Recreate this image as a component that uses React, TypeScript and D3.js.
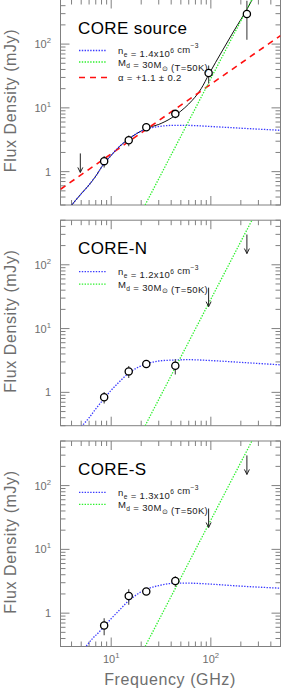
import React, { useEffect, useRef } from 'react';
import * as d3 from 'd3';

const W = 281;
const H = 689;

// observed flux densities (GHz, mJy)
const coreFreq = [8.5, 15, 22.5, 44, 95, 230];
const coreFlux = [1.46, 3.1, 4.97, 8.06, 35.2, 297];
const coreErr = [0.3, 0.6, 0.4, 1.2, 11, 180];
const coreLimFreq = [4.9];
const coreLimFlux = [1.93];

const northFreq = [8.5, 15, 22.5, 44];
const northFlux = [0.84, 2.13, 2.78, 2.61];
const northErr = [0.17, 0.45, 0.25, 0.7];
const northLimFreq = [95, 230];
const northLimFlux = [43.8, 298];

const southFreq = [8.5, 15, 22.5, 44];
const southFlux = [0.64, 1.86, 2.18, 3.2];
const southErr = [0.19, 0.5, 0.2, 0.6];
const southLimFreq = [95, 230];
const southLimFlux = [43.7, 297];

// model curves
const coreHiiFreq = [3.8, 5, 6, 7, 8.5, 10, 12, 15, 18, 22.5, 30, 40, 60, 100, 200, 500];
const coreHiiFlux = [0.27, 0.45, 0.62, 0.85, 1.35, 1.8, 2.45, 3.25, 3.95, 4.65, 5.1, 5.3, 5.3, 5.1, 4.8, 4.45];
const coreTotalFreq = [3.8, 5, 6, 7, 8.5, 10, 12, 15, 18, 22.5, 30, 40, 50, 60, 80, 96, 130, 170, 230, 280];
const coreTotalFlux = [0.27, 0.45, 0.62, 0.85, 1.35, 1.8, 2.45, 3.25, 3.95, 4.75, 5.5, 6.9, 8.9, 11.5, 20, 34, 78, 160, 350, 620];
const coreAlphaFreq = [3.1, 500];
const coreAlphaFlux = [0.53, 136];

const northHiiFreq = [4.8, 6, 7, 8.5, 10, 12, 15, 18, 22.5, 30, 40, 60, 100, 200, 500];
const northHiiFlux = [0.27, 0.4, 0.55, 0.8, 1.08, 1.45, 2.0, 2.4, 2.8, 3.1, 3.2, 3.25, 3.15, 2.95, 2.7];

const southHiiFreq = [5.4, 6.5, 7.5, 8.5, 10, 12, 15, 18, 22.5, 30, 43, 60, 100, 200, 500];
const southHiiFlux = [0.28, 0.4, 0.5, 0.62, 0.82, 1.1, 1.57, 1.95, 2.37, 2.7, 2.94, 2.95, 2.85, 2.65, 2.46];

const dustFreq = [21.9, 257];
const dustFlux = [0.3, 492];

const xTickLabels = ['1', '2'];
const yTickLabels = ['', '1', '2'];

type Part = [string, 'sub' | 'sup' | null];

const panels = [
  {
    title: 'CORE source',
    freq: coreFreq, flux: coreFlux, err: coreErr, limFreq: coreLimFreq, limFlux: coreLimFlux,
    hiiFreq: coreHiiFreq, hiiFlux: coreHiiFlux,
    totalFreq: coreTotalFreq, totalFlux: coreTotalFlux,
    alphaFreq: coreAlphaFreq, alphaFlux: coreAlphaFlux,
    ne: '1.4',
    legendY: [51, 62.5, 78],
  },
  {
    title: 'CORE-N',
    freq: northFreq, flux: northFlux, err: northErr, limFreq: northLimFreq, limFlux: northLimFlux,
    hiiFreq: northHiiFreq, hiiFlux: northHiiFlux,
    totalFreq: null, totalFlux: null, alphaFreq: null, alphaFlux: null,
    ne: '1.2',
    legendY: [51.5, 64],
  },
  {
    title: 'CORE-S',
    freq: southFreq, flux: southFlux, err: southErr, limFreq: southLimFreq, limFlux: southLimFlux,
    hiiFreq: southHiiFreq, hiiFlux: southHiiFlux,
    totalFreq: null, totalFlux: null, alphaFreq: null, alphaFlux: null,
    ne: '1.3',
    legendY: [51.3, 63.3],
  },
];

const FONT = '"Liberation Sans", Arial, Helvetica, sans-serif';
const AXIS_GRAY = '#808080';
const LABEL_GRAY = '#6e6e6e';
const BLUE = '#3a3aff';
const GREEN = '#2ef02e';
const RED = '#ff1010';

function rich(sel: any, parts: Part[], size: number) {
  parts.forEach(([s, kind]) => {
    if (kind === 'sub') {
      sel.append('tspan').attr('dy', size * 0.3).attr('font-size', size * 0.7).text(s);
      sel.append('tspan').attr('dy', -size * 0.3).text('');
    } else if (kind === 'sup') {
      sel.append('tspan').attr('dy', -size * 0.45).attr('font-size', size * 0.7).text(s);
      sel.append('tspan').attr('dy', size * 0.45).text('');
    } else {
      sel.append('tspan').text(s);
    }
  });
}

const App: React.FC = () => {
  const ref = useRef<SVGSVGElement>(null);

  useEffect(() => {
    if (!ref.current) return;
    const svg = d3.select(ref.current);
    svg.selectAll('*').remove();

    const left = 60.5;
    const right = 280.5;
    const panelH = 205.5;
    const tops = [-0.5, 220.2, 441];

    const x = d3.scaleLog().domain([3.1, 500]).range([left, right]);
    const xTicks = x.ticks().filter(t => t >= 3.1 && t <= 500);
    const defs = svg.append('defs');

    panels.forEach((p, pi) => {
      const top = tops[pi];
      const bottom = top + panelH;
      const y = d3.scaleLog().domain([0.3, 500]).range([bottom, top]);
      const yTicks = y.ticks().filter(t => t >= 0.3 && t <= 500);
      const isMajor = (v: number) => Math.abs(Math.log10(v) - Math.round(Math.log10(v))) < 1e-6;

      const clipId = `clip${pi}`;
      defs.append('clipPath').attr('id', clipId)
        .append('rect').attr('x', left).attr('y', top).attr('width', right - left).attr('height', panelH);

      const g = svg.append('g');

      // ticks
      xTicks.forEach(t => {
        const len = isMajor(t) ? 9 : 5;
        const xx = x(t);
        g.append('line').attr('x1', xx).attr('x2', xx).attr('y1', bottom).attr('y2', bottom - len)
          .attr('stroke', AXIS_GRAY).attr('stroke-width', 1);
        g.append('line').attr('x1', xx).attr('x2', xx).attr('y1', top).attr('y2', top + len)
          .attr('stroke', AXIS_GRAY).attr('stroke-width', 1);
      });
      yTicks.forEach(t => {
        const len = isMajor(t) ? 9 : 5;
        const yy = y(t);
        g.append('line').attr('x1', left).attr('x2', left + len).attr('y1', yy).attr('y2', yy)
          .attr('stroke', AXIS_GRAY).attr('stroke-width', 1);
        g.append('line').attr('x1', right).attr('x2', right - len).attr('y1', yy).attr('y2', yy)
          .attr('stroke', AXIS_GRAY).attr('stroke-width', 1);
      });
      g.append('rect').attr('x', left).attr('y', top).attr('width', right - left).attr('height', panelH)
        .attr('fill', 'none').attr('stroke', AXIS_GRAY).attr('stroke-width', 1);

      // y tick labels
      [1, 10, 100].forEach((v, i) => {
        const t = g.append('text').attr('x', 51).attr('y', y(v) + 4).attr('text-anchor', 'end')
          .attr('font-family', FONT).attr('font-size', 11).attr('fill', LABEL_GRAY);
        if (i === 0) t.text('1');
        else rich(t, [['10', null], [yTickLabels[i], 'sup']], 11);
      });

      // y axis title
      g.append('text')
        .attr('transform', `translate(16,${top + 101}) rotate(-90)`)
        .attr('text-anchor', 'middle')
        .attr('font-family', FONT).attr('font-size', 16).attr('letter-spacing', 0.6).attr('fill', LABEL_GRAY)
        .text('Flux Density (mJy)');

      // curves
      const plot = g.append('g').attr('clip-path', `url(#${clipId})`);
      const line = d3.line<[number, number]>().x(d => x(d[0])).y(d => y(d[1])).curve(d3.curveMonotoneX);
      const pairs = (fs: number[], vs: number[]) => fs.map((f, i) => [f, vs[i]] as [number, number]);

      if (p.totalFreq && p.totalFlux) {
        plot.append('path').attr('d', line(pairs(p.totalFreq, p.totalFlux)))
          .attr('fill', 'none').attr('stroke', '#111').attr('stroke-width', 1);
      }
      if (p.alphaFreq && p.alphaFlux) {
        plot.append('path').attr('d', line(pairs(p.alphaFreq, p.alphaFlux)))
          .attr('fill', 'none').attr('stroke', RED).attr('stroke-width', 1.6).attr('stroke-dasharray', '6 5');
      }
      plot.append('path').attr('d', line(pairs(p.hiiFreq, p.hiiFlux)))
        .attr('fill', 'none').attr('stroke', BLUE).attr('stroke-width', 1.3).attr('stroke-dasharray', '1.4 1.4');
      plot.append('path').attr('d', line(pairs(dustFreq, dustFlux)))
        .attr('fill', 'none').attr('stroke', GREEN).attr('stroke-width', 1.3).attr('stroke-dasharray', '1.4 1.4');

      // error bars and points
      p.freq.forEach((f, i) => {
        const xx = x(f);
        plot.append('line').attr('x1', xx).attr('x2', xx)
          .attr('y1', y(p.flux[i] + p.err[i])).attr('y2', y(Math.max(p.flux[i] - p.err[i], 0.01)))
          .attr('stroke', '#444').attr('stroke-width', 1.1);
      });
      p.freq.forEach((f, i) => {
        plot.append('circle').attr('cx', x(f)).attr('cy', y(p.flux[i])).attr('r', 3.6)
          .attr('fill', 'white').attr('stroke', '#000').attr('stroke-width', 1.3);
      });

      // upper limits
      p.limFreq.forEach((f, i) => {
        const xx = x(f);
        const y0 = y(p.limFlux[i]);
        const tip = y0 + 19;
        plot.append('line').attr('x1', xx).attr('x2', xx).attr('y1', y0).attr('y2', tip)
          .attr('stroke', '#222').attr('stroke-width', 1);
        plot.append('path').attr('d', `M${xx - 2.5},${tip - 5} L${xx},${tip} L${xx + 2.5},${tip - 5}`)
          .attr('fill', 'none').attr('stroke', '#222').attr('stroke-width', 1);
      });

      // title
      g.append('text').attr('x', 78).attr('y', top + 34).attr('font-family', FONT)
        .attr('font-size', 17).attr('letter-spacing', 0.4).attr('fill', '#000').text(p.title);

      // legend
      const legend = [
        { color: BLUE, dash: '1.4 1.4', parts: [['n', null], ['e', 'sub'], [` = ${p.ne}x10`, null], ['6', 'sup'], [' cm', null], ['\u22123', 'sup']] as Part[] },
        { color: GREEN, dash: '1.4 1.4', parts: [['M', null], ['d', 'sub'], [' = 30M', null], ['\u2299', 'sub'], [' (T=50K)', null]] as Part[] },
        { color: RED, dash: '6 5', parts: [['\u03b1 = +1.1 \u00b1 0.2', null]] as Part[] },
      ];
      p.legendY.forEach((ly, i) => {
        const item = legend[i];
        g.append('line').attr('x1', 79).attr('x2', 107).attr('y1', top + ly).attr('y2', top + ly)
          .attr('stroke', item.color).attr('stroke-width', i === 2 ? 1.6 : 1.3).attr('stroke-dasharray', item.dash);
        const t = g.append('text').attr('x', 118).attr('y', top + ly + 3.5)
          .attr('font-family', FONT).attr('font-size', 9.5).attr('letter-spacing', 0.35).attr('fill', '#222');
        rich(t, item.parts, 9.5);
      });
    });

    // x tick labels and axis title under the last panel
    const lastBottom = tops[2] + panelH;
    [10, 100].forEach((v, i) => {
      const t = svg.append('text').attr('x', x(v)).attr('y', lastBottom + 16).attr('text-anchor', 'middle')
        .attr('font-family', FONT).attr('font-size', 11).attr('fill', LABEL_GRAY);
      rich(t, [['10', null], [xTickLabels[i], 'sup']], 11);
    });
    svg.append('text').attr('x', 170).attr('y', lastBottom + 38).attr('text-anchor', 'middle')
      .attr('font-family', FONT).attr('font-size', 16).attr('letter-spacing', 0.6).attr('fill', LABEL_GRAY)
      .text('Frequency (GHz)');
  }, []);

  return (
    <svg
      ref={ref}
      width={W}
      height={H}
      style={{ position: 'absolute', left: 0, top: 0, background: '#fff' }}
    ></svg>
  );
};

export default App;
